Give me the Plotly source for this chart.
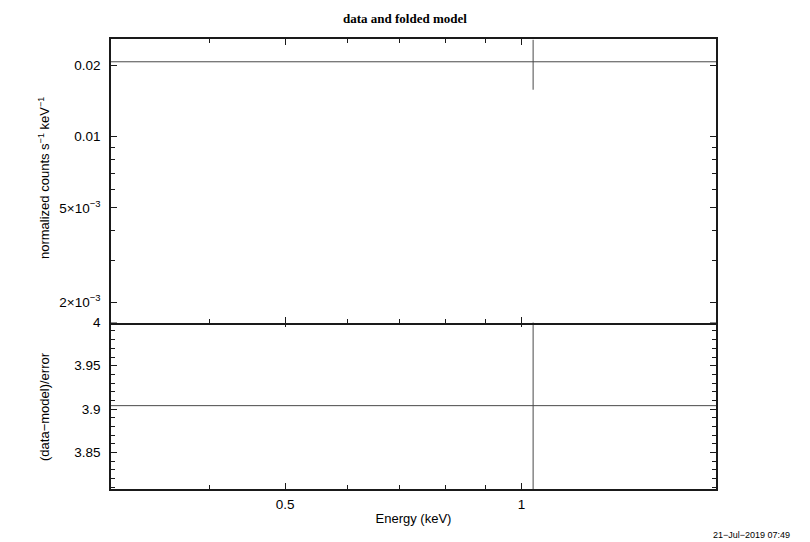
import math
import plotly.graph_objects as go

# ---- data ----
energy = [1.035]            # keV, bin centre
energy_halfwidth = [0.735]  # keV, half bin width
counts = [0.02066]          # normalized counts s^-1 keV^-1
counts_err = [0.00491]
residual = [3.904]          # (data-model)/error
residual_err = [1.0]

x_tick_vals = [0.5, 1]
x_tick_text = ["0.5", "1"]
x_minor_vals = [0.4, 0.6, 0.7, 0.8, 0.9]
top_tick_vals = [0.002, 0.005, 0.01, 0.02]
top_tick_text = ["2×10<sup>−3</sup>", "5×10<sup>−3</sup>", "0.01", "0.02"]
top_minor_vals = [0.003, 0.004, 0.006, 0.007, 0.008, 0.009]
bot_tick_vals = [3.85, 3.9, 3.95, 4.0]
bot_tick_text = ["3.85", "3.9", "3.95", "4"]

x_range = [0.3, 1.77]
top_range = [1.644e-3, 0.02577]
bot_range = [3.808, 4.0015]

LINE = "#4a4a4a"
FRAME = "#1a1a1a"
FONT = "Liberation Sans"

fig = go.Figure()
fig.add_trace(go.Scatter(
    x=energy, y=counts, mode="markers", xaxis="x2", yaxis="y2",
    marker=dict(size=1, color="rgba(0,0,0,0)"),
    error_x=dict(type="data", array=energy_halfwidth, symmetric=True,
                 width=0, thickness=1, color=LINE),
    error_y=dict(type="data", array=counts_err, symmetric=True,
                 width=0, thickness=1, color=LINE),
    showlegend=False, hoverinfo="skip"))
fig.add_trace(go.Scatter(
    x=energy, y=residual, mode="markers", xaxis="x", yaxis="y",
    marker=dict(size=1, color="rgba(0,0,0,0)"),
    error_x=dict(type="data", array=energy_halfwidth, symmetric=True,
                 width=0, thickness=1, color=LINE),
    error_y=dict(type="data", array=residual_err, symmetric=True,
                 width=0, thickness=1, color=LINE),
    showlegend=False, hoverinfo="skip"))

PH = 450.0
split = 168 / PH
overlap = 1.5 / PH

common_axis = dict(showline=True, linecolor=FRAME, linewidth=1.5, mirror="allticks",
                   ticks="inside", ticklen=6, tickwidth=1, tickcolor=FRAME,
                   showgrid=False, zeroline=False,
                   tickfont=dict(family=FONT, size=13.5, color="#000"))

fig.update_layout(
    width=810, height=542,
    margin=dict(l=111, r=94, t=39, b=53),
    paper_bgcolor="white", plot_bgcolor="white",
    xaxis=dict(type="log", range=[math.log10(x_range[0]), math.log10(x_range[1])],
               domain=[0, 1], anchor="y",
               tickvals=x_tick_vals, ticktext=x_tick_text,
               minor=dict(tickvals=x_minor_vals, ticks="inside", ticklen=4,
                          tickcolor=FRAME, showgrid=False),
               ticklabelstandoff=2,
               title=dict(text="Energy (keV)", font=dict(family=FONT, size=13, color="#000"),
                          standoff=3),
               **common_axis),
    xaxis2=dict(type="log", range=[math.log10(x_range[0]), math.log10(x_range[1])],
                matches="x", anchor="y2", showticklabels=False,
                tickvals=x_tick_vals,
                minor=dict(tickvals=x_minor_vals, ticks="inside", ticklen=4,
                           tickcolor=FRAME, showgrid=False),
                **common_axis),
    yaxis=dict(domain=[0, split], anchor="x", range=bot_range,
               tickvals=bot_tick_vals, ticktext=bot_tick_text,
               minor=dict(dtick=0.01, tick0=3.8, ticks="inside", ticklen=4,
                          tickcolor=FRAME, showgrid=False),
               ticklabelstandoff=6,
               **common_axis),
    yaxis2=dict(domain=[split - overlap, 1], anchor="x2", type="log",
                range=[math.log10(top_range[0]), math.log10(top_range[1])],
                tickvals=top_tick_vals, ticktext=top_tick_text,
                minor=dict(tickvals=top_minor_vals, ticks="inside", ticklen=4,
                           tickcolor=FRAME, showgrid=False),
                ticklabelstandoff=6,
                **common_axis),
    annotations=[
        dict(text="<b>data and folded model</b>", x=(405 - 111) / 605, y=(489 - 19) / PH,
             xref="paper", yref="paper", showarrow=False, xanchor="center", yanchor="middle",
             font=dict(family="Liberation Serif", size=13, color="#000")),
        dict(text="normalized counts s<sup>−1</sup> keV<sup>−1</sup>", textangle=-90,
             x=-67 / 605, y=(489 - 178) / PH,
             xref="paper", yref="paper", showarrow=False, xanchor="center", yanchor="middle",
             font=dict(family=FONT, size=13, color="#000")),
        dict(text="(data−model)/error", textangle=-90,
             x=-67 / 605, y=(489 - 407) / PH,
             xref="paper", yref="paper", showarrow=False, xanchor="center", yanchor="middle",
             font=dict(family=FONT, size=13, color="#000")),
        dict(text="21−Jul−2019 07:49", x=(792 - 111) / 605, y=-(535 - 489) / PH,
             xref="paper", yref="paper", showarrow=False, xanchor="right", yanchor="middle",
             font=dict(family=FONT, size=9, color="#000")),
    ],
)

fig.write_html("out.html", config={"displayModeBar": False},
               post_script="document.body.style.margin='0';document.body.style.padding='0';")
